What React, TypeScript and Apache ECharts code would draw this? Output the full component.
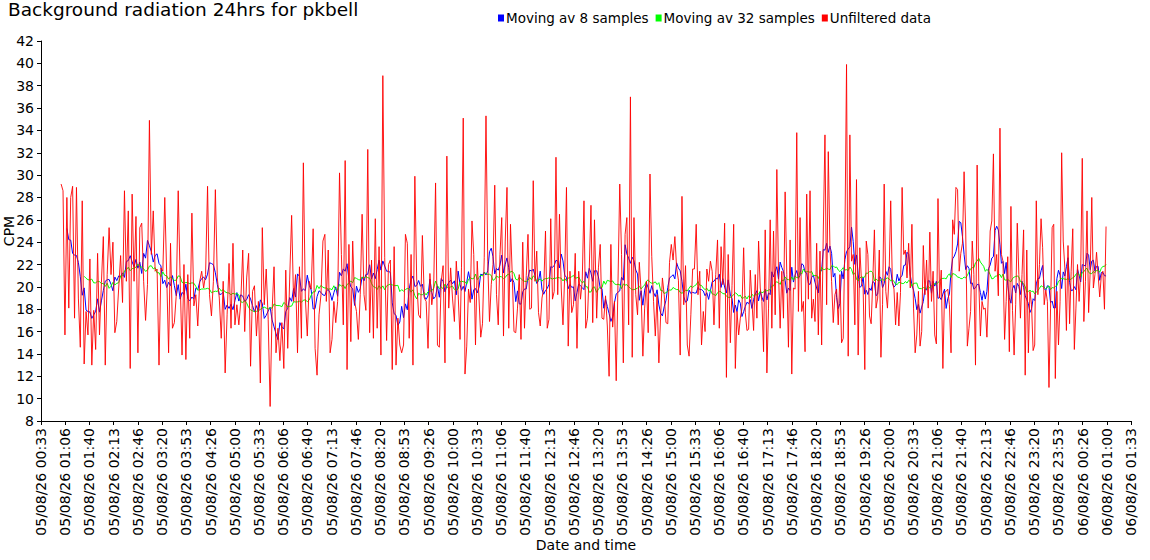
import React, { useEffect, useRef } from "react";
import * as echarts from "echarts";

const TITLE = "Background radiation 24hrs for pkbell";
const SERIES_NAMES = ["Moving av 8 samples", "Moving av 32 samples", "Unfiltered data"];
const SERIES_COLORS = ["#0000ff", "#00ff00", "#ff0000"];
const X_NAME = "Date and time";
const Y_NAME = "CPM";
const DAY_ONE = "05/08/26";
const DAY_TWO = "06/08/26";

// y axis: 8 .. 42 step 2
const Y_MIN = 8;
const Y_MAX = 42;
const Y_STEP = 2;
// x axis ticks (seconds since 05/08/26 00:00): every 33m20s, 00:33 .. next day 01:33
const X_MIN = 2000;
const X_MAX = 92000;
const X_STEP = 2000;

// Unfiltered CPM readings in consecutive time blocks
const SEGMENT_TIMES: [string, string][] = [
  ["01:01", "03:58"],
  ["04:01", "07:04"],
  ["07:06", "10:10"],
  ["10:12", "13:15"],
  ["13:18", "16:19"],
  ["16:22", "19:27"],
  ["19:29", "22:33"],
  ["22:35", "24:59"],
];

const raw0101 = [29.2, 28.6, 15.7, 28.0, 18.1, 28.0, 29.0, 17.2, 28.9, 19.0, 14.6, 27.7, 13.1, 17.8, 15.7, 22.5, 13.0, 17.9, 14.4, 23.0, 15.7, 20.4, 24.5, 13.0, 21.1, 25.3, 21.1, 24.0, 15.9, 16.9, 19.9, 22.8, 18.6, 28.6, 20.5, 26.8, 12.7, 28.3, 20.5, 26.3, 14.1, 25.3, 25.7, 20.5, 17.0, 20.2, 34.9, 22.9, 26.8, 21.4, 21.6, 13.0, 21.7, 21.4, 28.0, 21.1, 14.1, 23.9, 16.3, 16.8, 19.3, 28.6, 20.8, 13.9, 22.0, 13.5, 21.1, 15.4];
const raw0401 = [26.6, 18.3, 19.3, 16.5, 20.5, 21.4, 19.9, 21.1, 29.0, 19.3, 17.4, 20.5, 28.7, 20.8, 19.0, 15.4, 20.5, 12.3, 17.5, 22.1, 16.3, 23.9, 16.6, 18.4, 16.6, 18.7, 23.3, 16.0, 20.8, 23.0, 12.9, 19.6, 20.1, 15.6, 18.7, 11.4, 25.3, 18.4, 21.6, 17.1, 9.3, 17.8, 21.8, 14.1, 16.3, 13.4, 16.8, 12.7, 21.5, 14.5, 20.7, 26.4, 18.7, 21.1, 14.1, 21.8, 15.4, 31.1, 19.0, 15.6, 20.5, 19.8, 25.2, 14.5, 12.1, 17.5, 19.3, 24.1, 24.7];
const raw0706 = [18.7, 23.3, 14.1, 15.3, 18.7, 16.8, 18.7, 30.2, 22.9, 16.6, 31.3, 12.6, 23.8, 15.1, 24.1, 18.7, 17.8, 15.3, 19.3, 26.5, 19.3, 17.9, 32.3, 15.9, 22.4, 15.4, 26.1, 16.3, 23.6, 13.9, 38.9, 22.6, 15.2, 22.0, 22.4, 12.6, 23.6, 13.0, 17.2, 14.8, 14.1, 14.8, 24.7, 23.9, 15.4, 22.9, 13.0, 29.9, 20.5, 17.5, 17.2, 24.6, 19.0, 18.7, 14.5, 21.2, 18.4, 19.9, 29.3, 14.8, 14.6, 20.5, 21.9, 13.2, 31.7, 18.1, 21.7, 19.0, 16.9, 22.3, 19.3, 15.3];
const raw1012 = [21.7, 35.1, 12.2, 14.7, 19.8, 18.6, 25.9, 22.9, 14.8, 22.3, 19.0, 15.5, 16.7, 22.6, 35.3, 22.3, 16.9, 20.2, 22.0, 29.1, 19.3, 16.6, 22.9, 26.2, 15.6, 24.1, 28.9, 16.3, 25.6, 21.1, 16.0, 15.9, 18.1, 21.1, 15.3, 24.0, 16.3, 21.0, 24.7, 18.0, 18.1, 29.5, 20.5, 23.2, 17.7, 16.5, 19.0, 19.9, 25.0, 16.3, 17.1, 26.1, 18.9, 19.6, 31.6, 19.3, 26.5, 19.9, 16.6, 21.1, 28.9, 14.7, 21.4, 17.7, 18.4, 23.0, 14.5, 21.4, 18.9, 20.5, 27.7, 16.3, 17.2, 21.5, 27.3, 16.8, 26.0];
const raw1318 = [17.2, 21.7, 23.8, 17.2, 17.1, 19.2, 16.5, 12.0, 23.8, 16.4, 18.7, 11.6, 20.4, 29.2, 22.9, 13.2, 24.7, 26.2, 16.6, 37.0, 13.7, 26.2, 19.3, 17.5, 22.2, 19.6, 13.8, 18.1, 20.5, 15.9, 30.1, 22.7, 18.7, 15.6, 19.3, 13.2, 17.5, 20.8, 19.3, 16.8, 16.7, 22.2, 23.8, 22.4, 24.5, 21.7, 20.6, 13.9, 28.1, 18.4, 21.9, 14.8, 13.8, 17.5, 21.6, 21.6, 25.6, 19.3, 21.4, 14.8, 17.8, 16.0, 21.6, 20.5, 22.3, 21.4, 16.6, 21.1, 24.2, 16.3, 23.6, 20.2, 25.7, 11.9, 22.9];
const raw1622 = [15.0, 20.1, 25.6, 12.7, 17.8, 15.7, 17.2, 18.1, 23.5, 17.7, 16.1, 16.2, 21.5, 18.7, 16.1, 21.1, 17.2, 24.1, 19.9, 18.7, 14.2, 25.1, 12.3, 18.1, 26.0, 16.3, 25.0, 17.5, 30.5, 21.4, 16.3, 21.4, 17.2, 28.5, 21.1, 14.6, 24.2, 12.2, 19.9, 19.8, 33.8, 17.8, 26.2, 17.8, 18.7, 14.2, 28.3, 18.9, 28.6, 17.2, 18.9, 16.9, 23.9, 15.7, 23.2, 14.8, 25.0, 33.6, 18.4, 32.1, 23.5, 20.5, 16.8, 19.3, 19.8, 16.6, 21.1, 15.0, 15.4, 24.1, 39.9, 13.8, 33.6, 22.3, 22.9, 16.6, 29.6, 13.9, 23.5, 20.5, 19.9, 12.6];
const raw1929 = [24.1, 22.9, 17.4, 16.7, 20.5, 25.1, 18.1, 19.0, 23.3, 13.7, 18.4, 29.2, 19.6, 18.1, 21.1, 27.7, 20.5, 19.8, 16.6, 19.5, 16.5, 19.5, 28.9, 22.9, 23.3, 20.8, 23.9, 19.9, 25.6, 18.1, 14.1, 15.7, 19.6, 14.7, 16.0, 23.7, 19.3, 22.4, 18.1, 24.9, 18.7, 21.4, 15.7, 14.9, 27.9, 19.0, 21.5, 12.7, 19.5, 19.6, 19.8, 18.4, 14.1, 26.0, 24.7, 28.9, 28.7, 21.4, 23.0, 23.9, 30.3, 25.0, 14.7, 16.3, 17.8, 24.1, 21.1, 13.0, 30.9, 20.5, 15.6, 18.7, 18.0, 18.1, 15.5, 19.9, 25.0, 25.9, 31.9, 21.4, 22.9, 19.2, 34.2];
const raw2235 = [22.9, 22.3, 15.3, 18.7, 22.7, 14.2, 27.2, 17.9, 13.9, 18.4, 25.7, 21.1, 17.2, 21.1, 25.1, 12.1, 23.3, 14.1, 19.6, 18.4, 14.3, 14.8, 27.7, 19.3, 22.0, 26.1, 23.5, 18.4, 19.7, 18.7, 11.0, 18.1, 25.3, 25.6, 11.8, 19.6, 14.8, 18.7, 32.0, 24.1, 21.7, 16.1, 23.7, 16.7, 21.4, 25.2, 14.4, 18.1, 22.0, 18.7, 21.4, 31.5, 16.9, 20.5, 26.8, 17.7, 21.4, 28.0, 19.9, 21.1, 23.1, 21.1, 19.1, 21.0, 21.4, 18.0, 25.4];

const SEGMENT_VALUES = [raw0101, raw0401, raw0706, raw1012, raw1318, raw1622, raw1929, raw2235];

// moving-average windows (samples) and where each averaged line begins
const WINDOWS = [8, 32];
const FIRST_INDEX = [3, 12];

function toSeconds(hhmm: string): number {
  const [h, m] = hhmm.split(":").map(Number);
  return h * 3600 + m * 60;
}

function buildRaw(): [number, number][] {
  const out: [number, number][] = [];
  SEGMENT_TIMES.forEach(([start, end], k) => {
    const vals = SEGMENT_VALUES[k];
    const t0 = toSeconds(start);
    const t1 = toSeconds(end);
    vals.forEach((v, i) => {
      out.push([t0 + ((t1 - t0) * i) / (vals.length - 1), v]);
    });
  });
  return out;
}

function movingAverage(points: [number, number][], win: number, first: number): [number, number][] {
  const back = Math.floor(win / 2);
  const fwd = win - back - 1;
  const out: [number, number][] = [];
  for (let i = first; i < points.length; i++) {
    const a = Math.max(0, i - back);
    const b = Math.min(points.length - 1, i + fwd);
    let s = 0;
    for (let j = a; j <= b; j++) s += points[j][1];
    out.push([points[i][0], +(s / (b - a + 1)).toFixed(2)]);
  }
  return out;
}

function pad(n: number) {
  return n < 10 ? "0" + n : "" + n;
}

function formatTick(v: number): string {
  const t = Math.round(v);
  const day = t >= 86400 ? DAY_TWO : DAY_ONE;
  const s = t % 86400;
  const hh = Math.floor(s / 3600);
  const mm = Math.floor((s % 3600) / 60);
  return `${day} ${pad(hh)}:${pad(mm)}`;
}

const FONT = "DejaVu Sans";

export default function App() {
  const ref = useRef<HTMLDivElement>(null);
  useEffect(() => {
    if (!ref.current) return;
    const chart = echarts.init(ref.current, undefined, { renderer: "svg" });
    const raw = buildRaw();
    const ma8 = movingAverage(raw, WINDOWS[0], FIRST_INDEX[0]);
    const ma32 = movingAverage(raw, WINDOWS[1], FIRST_INDEX[1]);
    chart.setOption({
      animation: false,
      backgroundColor: "#ffffff",
      textStyle: { fontFamily: FONT, color: "#000" },
      title: {
        text: TITLE,
        left: 8,
        top: 0,
        padding: 0,
        textStyle: { fontFamily: FONT, fontSize: 18.5, fontWeight: "normal", color: "#000" },
      },
      legend: {
        left: 498,
        top: 11,
        padding: 0,
        itemGap: 7,
        itemWidth: 6,
        itemHeight: 7,
        icon: "rect",
        data: SERIES_NAMES,
        textStyle: { fontFamily: FONT, fontSize: 13.5, color: "#000", padding: [0, 0, 0, -3] },
      },
      grid: { left: 41, right: 19, top: 41, bottom: 139, containLabel: false, outerBoundsMode: "none" },
      xAxis: {
        type: "value",
        min: X_MIN,
        max: X_MAX,
        interval: X_STEP,
        name: X_NAME,
        nameLocation: "middle",
        nameGap: 117,
        nameMoveOverlap: false,
        nameTextStyle: { fontFamily: FONT, fontSize: 14, color: "#000" },
        axisLine: { show: true, onZero: false, lineStyle: { color: "#000", width: 1 } },
        axisTick: { show: true, length: 4, lineStyle: { color: "#000" } },
        splitLine: { show: false },
        axisLabel: {
          rotate: 90,
          margin: 7,
          fontSize: 14,
          fontFamily: FONT,
          color: "#000",
          showMinLabel: true,
          showMaxLabel: true,
          formatter: formatTick,
        },
      },
      yAxis: {
        type: "value",
        min: Y_MIN,
        max: Y_MAX,
        interval: Y_STEP,
        name: Y_NAME,
        nameLocation: "middle",
        nameRotate: 90,
        nameGap: 25,
        nameMoveOverlap: false,
        nameTextStyle: { fontFamily: FONT, fontSize: 14, color: "#000" },
        axisLine: { show: true, lineStyle: { color: "#000", width: 1 } },
        axisTick: { show: true, length: 4, lineStyle: { color: "#000" } },
        splitLine: { show: false },
        axisLabel: { margin: 7, fontSize: 14, fontFamily: FONT, color: "#000" },
      },
      series: [
        {
          name: SERIES_NAMES[0],
          type: "line",
          data: ma8,
          showSymbol: false,
          symbol: "none",
          lineStyle: { color: SERIES_COLORS[0], width: 1 },
          itemStyle: { color: SERIES_COLORS[0] },
          z: 2,
        },
        {
          name: SERIES_NAMES[1],
          type: "line",
          data: ma32,
          showSymbol: false,
          symbol: "none",
          lineStyle: { color: SERIES_COLORS[1], width: 1 },
          itemStyle: { color: SERIES_COLORS[1] },
          z: 3,
        },
        {
          name: SERIES_NAMES[2],
          type: "line",
          data: raw,
          showSymbol: false,
          symbol: "none",
          lineStyle: { color: SERIES_COLORS[2], width: 1, opacity: 0.9 },
          itemStyle: { color: SERIES_COLORS[2] },
          z: 4,
        },
      ],
    });
    return () => chart.dispose();
  }, []);
  return (
    <div
      ref={ref}
      style={{ position: "absolute", left: 0, top: 0, width: 1150, height: 560 }}
    />
  );
}
